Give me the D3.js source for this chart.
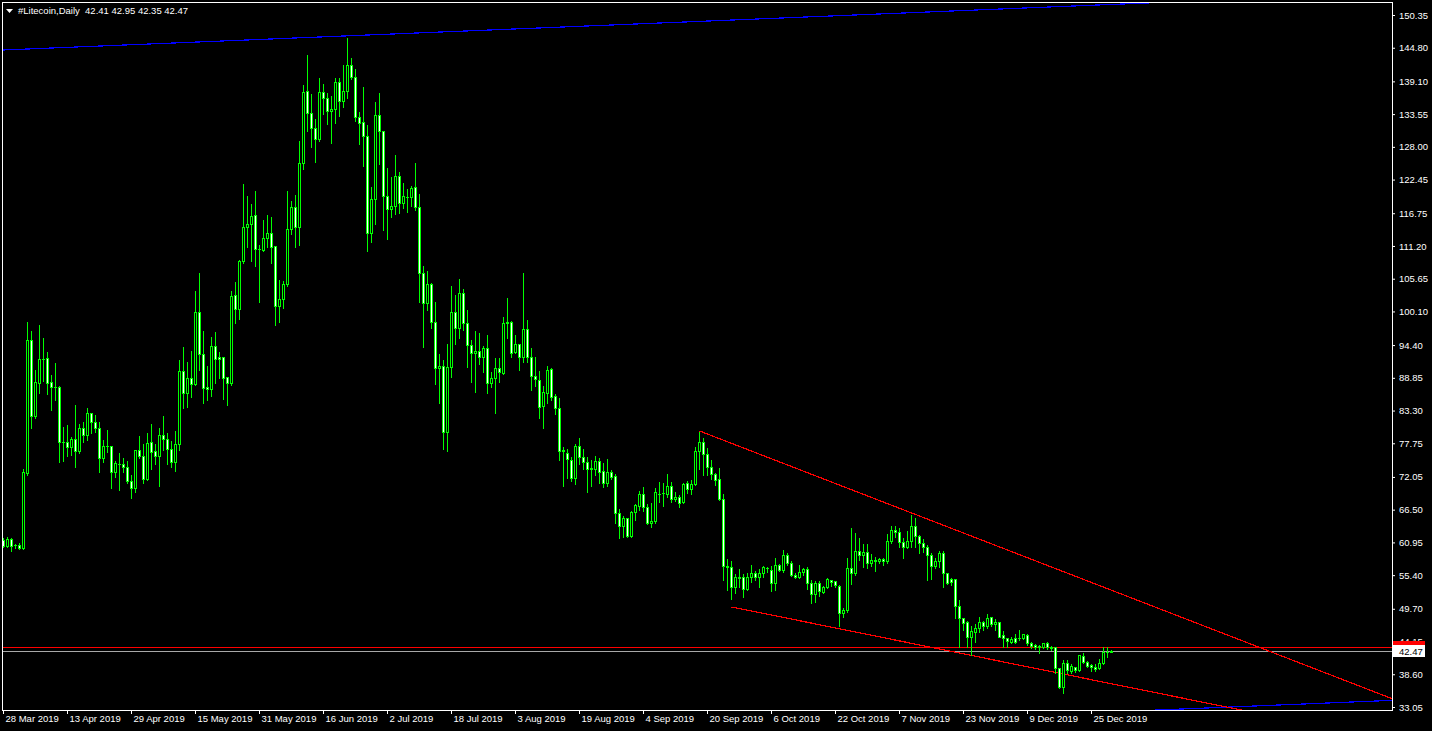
<!DOCTYPE html>
<html>
<head>
<meta charset="utf-8">
<script src="https://cdn.jsdelivr.net/npm/d3@7/dist/d3.min.js"></script>
<style>
  html, body { margin: 0; padding: 0; background: #000; }
  svg { display: block; }
  text { font-family: "Liberation Sans", Arial, sans-serif; }
</style>
</head>
<body>
<div id="chart"></div>
<script>
// daily bars, one per calendar day starting here
const firstDay = "2019-03-28";
const symbolName = "#Litecoin,Daily";

const opens = [
  61.36, 60.34, 61.53, 60.51, 60.51, 60.00, 72.72, 95.26, 82.38, 87.97,
  92.04, 92.21, 88.14, 87.29, 87.29, 77.97, 77.97, 77.12, 78.48, 76.45,
  80.34, 79.16, 82.89, 81.36, 80.34, 75.26, 77.29, 77.29, 72.89, 74.24,
  74.24, 73.73, 71.36, 70.17, 76.62, 75.60, 71.70, 77.97, 76.45, 75.60,
  79.16, 78.48, 76.78, 74.58, 77.63, 90.01, 86.27, 88.82, 87.80, 100.01,
  92.89, 87.29, 86.96, 94.24, 92.38, 92.38, 88.99, 87.97, 102.89, 100.51,
  108.65, 114.41, 114.92, 116.45, 110.68, 110.51, 112.55, 113.40, 111.19, 101.02,
  102.21, 104.75, 114.07, 117.80, 114.41, 125.26, 137.47, 133.74, 131.19, 129.33,
  137.30, 136.28, 134.08, 134.42, 138.99, 135.77, 137.47, 141.87, 139.84, 133.06,
  132.21, 129.84, 113.40, 119.16, 133.40, 130.69, 119.67, 117.46, 117.97, 123.05,
  118.48, 119.50, 119.50, 121.20, 117.80, 106.55, 101.53, 104.75, 98.31, 90.51,
  90.85, 79.67, 90.68, 100.01, 97.29, 103.23, 98.14, 94.41, 93.06, 93.40,
  92.38, 93.91, 87.97, 88.82, 90.51, 89.67, 98.14, 98.31, 93.23, 94.58,
  92.38, 97.12, 92.38, 89.16, 88.48, 84.07, 86.27, 90.35, 85.77, 83.73,
  76.45, 76.11, 74.92, 71.87, 77.29, 75.43, 74.58, 73.39, 73.39, 74.75,
  73.06, 71.02, 72.89, 72.21, 65.94, 63.73, 65.09, 62.04, 66.11, 67.12,
  69.16, 66.95, 64.24, 64.58, 69.16, 69.33, 69.16, 70.50, 68.31, 68.65,
  67.80, 71.02, 70.00, 70.85, 76.45, 77.97, 75.94, 73.73, 72.55, 71.70,
  68.31, 56.95, 56.78, 53.39, 55.09, 55.09, 53.06, 55.09, 55.77, 55.09,
  55.77, 56.61, 56.28, 54.07, 57.12, 56.28, 58.82, 57.46, 55.43, 55.09,
  55.94, 56.45, 54.07, 52.21, 54.07, 52.55, 53.39, 54.58, 54.41, 53.56,
  48.99, 49.50, 56.61, 55.77, 59.50, 58.82, 59.33, 57.46, 57.97, 57.80,
  58.14, 57.80, 61.19, 63.06, 62.72, 61.02, 60.17, 61.19, 63.73, 62.04,
  60.85, 60.17, 58.82, 56.95, 57.80, 59.16, 55.77, 54.75, 54.75, 50.17,
  48.14, 47.46, 44.92, 45.77, 46.45, 47.46, 46.78, 48.31, 47.12, 47.46,
  45.26, 44.75, 44.07, 44.75, 44.75, 44.75, 45.26, 43.90, 43.56, 43.39,
  43.22, 43.90, 43.22, 43.22, 39.67, 36.45, 40.51, 39.16, 39.84, 39.33,
  41.70, 40.68, 40.17, 39.84, 39.67, 40.51, 42.38, 42.41
];

const highs = [
  61.87, 62.04, 61.87, 60.85, 61.02, 73.56, 98.48, 96.96, 90.34, 97.97,
  95.77, 93.40, 89.50, 91.53, 87.63, 80.68, 81.02, 78.99, 84.41, 81.19,
  81.53, 83.90, 83.06, 82.72, 81.53, 78.48, 80.17, 77.46, 74.92, 76.28,
  75.43, 74.92, 72.55, 76.78, 79.16, 77.80, 79.67, 81.19, 77.80, 80.51,
  82.55, 79.67, 78.31, 80.00, 92.04, 94.24, 91.70, 93.57, 103.73, 106.79,
  96.96, 91.02, 95.94, 96.79, 93.40, 92.55, 89.05, 103.73, 105.26, 109.00,
  121.88, 119.84, 118.48, 120.69, 111.53, 115.77, 116.61, 116.27, 111.36, 105.60,
  105.43, 120.69, 118.99, 120.01, 129.16, 138.65, 143.74, 137.13, 132.89, 139.84,
  138.82, 137.30, 136.79, 139.84, 139.84, 142.04, 146.62, 143.23, 141.36, 134.08,
  138.31, 131.87, 121.37, 135.77, 137.30, 130.86, 124.58, 123.05, 126.80, 123.90,
  122.05, 121.03, 121.53, 125.43, 120.18, 107.97, 107.13, 105.09, 101.87, 93.06,
  92.04, 94.75, 104.58, 103.06, 105.77, 104.07, 100.51, 95.43, 96.96, 96.62,
  94.41, 96.28, 90.01, 92.38, 92.38, 99.33, 102.55, 98.65, 96.28, 94.65,
  106.79, 98.82, 94.07, 92.55, 90.18, 87.63, 91.02, 90.68, 86.27, 85.60,
  77.29, 76.95, 75.60, 77.80, 78.82, 76.95, 75.60, 75.09, 75.77, 75.43,
  74.58, 75.26, 73.39, 72.72, 66.79, 65.60, 65.26, 66.45, 67.63, 69.84,
  70.50, 67.63, 67.80, 70.34, 71.36, 71.19, 72.72, 71.36, 69.67, 69.16,
  71.19, 71.53, 71.70, 77.29, 79.84, 78.82, 77.12, 75.09, 72.89, 73.73,
  69.33, 58.31, 57.97, 55.77, 56.61, 55.77, 55.94, 57.29, 56.28, 56.61,
  57.12, 56.95, 57.12, 58.48, 57.46, 59.83, 59.33, 57.97, 55.94, 57.29,
  56.78, 56.95, 54.75, 54.58, 54.58, 53.73, 55.09, 54.75, 54.58, 53.90,
  50.00, 58.48, 63.56, 62.72, 61.87, 60.85, 60.85, 59.16, 58.65, 58.48,
  58.48, 62.55, 63.90, 63.90, 63.56, 61.87, 63.06, 65.77, 65.26, 62.38,
  61.70, 60.68, 59.33, 58.48, 59.67, 59.67, 55.94, 55.09, 54.92, 51.36,
  48.31, 47.80, 46.95, 47.29, 48.48, 47.80, 48.99, 48.48, 48.14, 47.50,
  46.11, 44.92, 45.09, 45.60, 46.28, 45.60, 45.60, 44.24, 43.90, 43.73,
  44.07, 44.24, 43.56, 43.39, 39.84, 41.19, 41.19, 40.51, 40.00, 41.87,
  42.38, 41.02, 40.51, 40.51, 41.36, 43.39, 43.39, 42.95
];

const lows = [
  60.17, 60.17, 59.50, 60.00, 59.83, 59.83, 72.38, 80.34, 82.04, 86.27,
  88.31, 86.10, 83.39, 85.09, 74.58, 74.75, 75.60, 75.77, 73.73, 76.11,
  77.97, 78.31, 79.50, 79.67, 72.89, 74.58, 76.28, 70.17, 72.04, 69.84,
  72.89, 71.02, 68.48, 69.50, 75.26, 71.02, 71.60, 73.39, 74.24, 70.50,
  76.62, 74.24, 73.73, 73.06, 76.62, 83.73, 83.90, 85.60, 87.63, 90.18,
  84.58, 85.09, 85.77, 87.97, 88.82, 85.26, 84.24, 87.63, 98.14, 98.82,
  108.31, 111.02, 108.65, 107.80, 101.70, 110.34, 111.02, 108.31, 97.80, 98.31,
  100.68, 104.41, 113.23, 111.02, 111.36, 124.24, 130.69, 127.97, 125.43, 128.99,
  133.57, 131.87, 128.65, 132.04, 133.23, 134.75, 136.28, 139.50, 132.38, 128.48,
  124.75, 110.34, 111.87, 114.92, 125.09, 113.91, 112.38, 116.11, 116.61, 116.78,
  117.63, 116.95, 117.97, 117.29, 101.70, 94.07, 100.34, 97.29, 87.80, 84.58,
  76.78, 76.45, 88.99, 94.58, 95.60, 96.96, 90.68, 88.14, 86.44, 91.19,
  89.84, 86.27, 87.29, 82.89, 88.14, 89.50, 95.60, 92.38, 93.06, 90.18,
  91.53, 91.53, 86.79, 87.46, 82.04, 80.34, 84.58, 85.09, 82.72, 74.92,
  70.50, 71.87, 71.36, 70.85, 74.24, 73.39, 69.50, 70.50, 72.38, 71.02,
  70.34, 70.50, 71.70, 64.24, 61.70, 61.87, 61.87, 61.95, 64.75, 66.45,
  66.28, 64.07, 63.56, 64.24, 67.80, 67.12, 68.65, 67.80, 67.97, 66.95,
  67.63, 69.33, 69.16, 70.68, 73.39, 72.38, 72.38, 71.70, 70.68, 68.14,
  54.58, 52.89, 51.36, 52.38, 53.39, 51.70, 52.89, 54.24, 54.58, 53.39,
  55.09, 55.94, 52.72, 52.89, 56.11, 55.94, 57.12, 55.26, 55.00, 55.00,
  55.43, 53.06, 50.68, 50.85, 51.87, 52.38, 53.30, 53.56, 53.39, 46.78,
  48.31, 49.16, 53.90, 55.43, 57.97, 56.78, 56.61, 56.95, 56.11, 57.46,
  57.12, 57.46, 60.85, 61.87, 60.17, 58.31, 60.00, 60.17, 60.17, 59.16,
  59.33, 54.58, 54.75, 56.61, 56.78, 53.39, 53.90, 53.73, 48.14, 43.22,
  46.11, 43.22, 41.87, 44.07, 45.77, 46.11, 46.45, 46.78, 46.11, 44.92,
  43.22, 43.22, 43.90, 43.90, 44.41, 44.58, 43.56, 43.05, 42.88, 42.21,
  43.05, 42.88, 42.71, 38.82, 36.28, 35.43, 38.82, 38.82, 38.99, 39.16,
  40.51, 39.84, 39.16, 39.16, 39.50, 40.34, 41.53, 42.35
];

const closes = [
  60.34, 61.53, 60.34, 60.55, 60.00, 72.89, 95.26, 82.38, 88.14, 92.04,
  92.00, 87.97, 87.29, 87.25, 77.97, 77.95, 77.12, 78.48, 76.45, 80.34,
  79.16, 82.89, 81.36, 80.34, 75.26, 77.29, 77.25, 72.89, 74.41, 74.20,
  73.73, 71.36, 70.17, 76.62, 75.60, 71.70, 77.80, 76.28, 75.60, 79.16,
  78.48, 76.78, 74.58, 77.63, 90.01, 86.27, 88.82, 87.80, 100.01, 92.89,
  87.12, 86.96, 94.24, 92.04, 92.04, 88.82, 87.97, 102.72, 100.51, 108.65,
  114.41, 114.92, 116.27, 110.68, 110.65, 112.55, 113.40, 111.02, 101.02, 102.21,
  104.75, 114.07, 117.80, 114.41, 125.26, 137.30, 133.74, 131.19, 129.33, 137.30,
  136.28, 134.08, 134.42, 138.99, 135.77, 137.47, 141.87, 139.84, 133.06, 132.04,
  129.84, 113.40, 119.16, 133.40, 130.69, 119.67, 117.46, 117.97, 123.05, 118.48,
  119.67, 119.45, 121.03, 117.80, 106.55, 101.53, 104.75, 98.31, 90.51, 90.85,
  79.67, 90.68, 100.01, 97.29, 103.23, 98.14, 94.41, 93.06, 93.40, 92.38,
  93.91, 87.97, 88.82, 90.51, 89.84, 98.14, 98.31, 93.06, 94.58, 92.38,
  97.12, 92.38, 89.16, 88.65, 83.90, 86.44, 90.18, 85.60, 83.73, 76.45,
  76.62, 75.09, 71.87, 77.29, 75.43, 74.58, 73.39, 73.56, 74.75, 72.89,
  71.02, 72.89, 72.04, 65.94, 63.73, 65.09, 62.04, 66.11, 67.29, 69.16,
  66.95, 64.24, 64.58, 69.50, 69.12, 69.30, 70.50, 68.31, 68.65, 67.63,
  70.85, 70.00, 70.85, 76.45, 77.97, 75.94, 73.73, 72.55, 71.53, 68.31,
  56.95, 56.78, 53.39, 55.09, 54.92, 53.06, 55.09, 55.77, 55.09, 55.77,
  56.78, 56.58, 54.07, 57.12, 56.28, 58.82, 57.46, 55.43, 55.09, 55.94,
  56.45, 54.07, 52.21, 54.07, 52.72, 53.39, 54.75, 54.24, 53.73, 48.99,
  49.50, 56.61, 55.77, 59.50, 58.82, 59.33, 57.46, 57.97, 57.80, 58.14,
  57.80, 61.19, 63.06, 62.72, 61.02, 60.17, 61.19, 63.73, 62.04, 60.85,
  60.17, 58.82, 56.95, 57.80, 59.16, 55.77, 54.07, 54.24, 50.17, 48.14,
  47.29, 44.92, 45.94, 46.45, 47.46, 46.78, 48.14, 47.12, 47.46, 44.95,
  44.75, 44.24, 44.58, 44.07, 44.72, 45.43, 43.90, 43.39, 43.22, 43.22,
  43.90, 43.22, 43.05, 39.67, 36.45, 40.51, 39.33, 40.00, 39.33, 41.80,
  40.68, 40.00, 39.84, 39.50, 40.51, 42.38, 42.41, 42.47
];

const priceTicks = [150.35, 144.80, 139.10, 133.55, 128.00, 122.45, 116.75, 111.20,
  105.65, 100.10, 94.40, 88.85, 83.30, 77.75, 72.05, 66.50, 60.95, 55.40, 49.70,
  44.15, 38.60, 33.05];

const dateTicks = ["2019-03-28", "2019-04-13", "2019-04-29", "2019-05-15", "2019-05-31",
  "2019-06-16", "2019-07-02", "2019-07-18", "2019-08-03", "2019-08-19", "2019-09-04",
  "2019-09-20", "2019-10-06", "2019-10-22", "2019-11-07", "2019-11-23", "2019-12-09",
  "2019-12-25"];

const askPrice = 43.22;
const bidPrice = 42.47;

// trend objects: [bar, price] anchor pairs, "ray" ones keep going right
const trendLines = [
  { color: "#0000ff", from: [-5, 144.28], to: [277, 152.14], ray: true },
  { color: "#0000ff", from: [-5, 24.36], to: [277, 32.22], ray: true },
  { color: "#ff0000", from: [174, 79.84], to: [227, 65.95], ray: true },
  { color: "#ff0000", from: [182, 50.01], to: [284, 36.03], ray: true }
];

const W = 1432, H = 731;
const plotL = 2, plotT = 2, plotR = 1392, plotB = 710;

const parse = d3.utcParse("%Y-%m-%d");
const day0 = parse(firstDay);
const barDate = b => new Date(+day0 + b * 864e5);

const x = d3.scaleUtc()
  .domain([day0, barDate(277)])
  .range([3, 3 + 277 * 4]);

const y = d3.scaleLinear()
  .domain([33.05, 150.35])
  .range([707, 15]);

const svg = d3.select("#chart").append("svg")
  .attr("width", W).attr("height", H)
  .style("background", "#000");

svg.append("defs").append("clipPath").attr("id", "plot")
  .append("rect")
  .attr("x", plotL + 1).attr("y", plotT + 1)
  .attr("width", plotR - plotL - 1).attr("height", plotB - plotT - 1);

const plot = svg.append("g").attr("clip-path", "url(#plot)");

// bid / ask lines
plot.append("line")
  .attr("x1", plotL).attr("x2", plotR)
  .attr("y1", Math.round(y(bidPrice)) + 0.5).attr("y2", Math.round(y(bidPrice)) + 0.5)
  .attr("stroke", "#a8a8a8").attr("shape-rendering", "crispEdges");
plot.append("line")
  .attr("x1", plotL).attr("x2", plotR)
  .attr("y1", Math.round(y(askPrice)) + 0.5).attr("y2", Math.round(y(askPrice)) + 0.5)
  .attr("stroke", "#ff0000").attr("shape-rendering", "crispEdges");

// trend lines
trendLines.forEach(t => {
  let [b1, p1] = t.from, [b2, p2] = t.to;
  if (t.ray) {
    const slope = (p2 - p1) / (b2 - b1);
    b2 = 420; p2 = p1 + slope * (b2 - b1);
  }
  plot.append("line")
    .attr("x1", x(barDate(b1)) + 0.5).attr("y1", y(p1))
    .attr("x2", x(barDate(b2)) + 0.5).attr("y2", y(p2))
    .attr("stroke", t.color).attr("stroke-width", 1.2)
    .attr("shape-rendering", "crispEdges");
});

// candles
const bars = d3.range(opens.length).map(i => ({
  date: barDate(i), o: opens[i], h: highs[i], l: lows[i], c: closes[i]
}));

const lime = "#00ff00";
const cg = plot.append("g").attr("shape-rendering", "crispEdges");

const candle = cg.selectAll("g.candle").data(bars).join("g").attr("class", "candle");

candle.append("line")
  .attr("x1", d => Math.round(x(d.date)) + 0.5)
  .attr("x2", d => Math.round(x(d.date)) + 0.5)
  .attr("y1", d => Math.round(y(d.h)) + 0.5)
  .attr("y2", d => Math.round(y(d.l)) + 0.5)
  .attr("stroke", lime);

candle.each(function (d) {
  const g = d3.select(this);
  const col = Math.round(x(d.date));
  const yo = Math.round(y(d.o)), yc = Math.round(y(d.c));
  if (yo === yc) {
    g.append("line")
      .attr("x1", col - 1).attr("x2", col + 2)
      .attr("y1", yo + 0.5).attr("y2", yo + 0.5)
      .attr("stroke", lime);
  } else {
    g.append("rect")
      .attr("x", col - 0.5)
      .attr("y", Math.min(yo, yc) + 0.5)
      .attr("width", 2)
      .attr("height", Math.abs(yo - yc))
      .attr("fill", d.c > d.o ? "#000" : "#fff")
      .attr("stroke", lime);
  }
});

// frame
svg.append("rect")
  .attr("x", plotL + 0.5).attr("y", plotT + 0.5)
  .attr("width", plotR - plotL).attr("height", plotB - plotT)
  .attr("fill", "none").attr("stroke", "#fff")
  .attr("shape-rendering", "crispEdges");

// price axis
const yAxis = svg.append("g")
  .attr("transform", `translate(${plotR},0)`)
  .call(d3.axisRight(y).tickValues(priceTicks).tickSize(3).tickPadding(4)
    .tickFormat(d3.format(".2f")));
yAxis.select(".domain").remove();
yAxis.selectAll("line").attr("stroke", "#fff");
yAxis.selectAll("text").attr("fill", "#fff").attr("font-size", 9.5)
  .style("font-family", '"Liberation Sans", Arial, sans-serif');

// ask marker (its text sits under the bid label) and the bid label on the price axis
const askY = Math.round(y(askPrice));
svg.append("rect")
  .attr("x", plotR + 1).attr("y", askY - 6)
  .attr("width", 32).attr("height", 12)
  .attr("fill", "#ff0000").attr("shape-rendering", "crispEdges");

const bidY = Math.round(y(bidPrice));
svg.append("rect")
  .attr("x", plotR + 1).attr("y", bidY - 6)
  .attr("width", 32).attr("height", 12)
  .attr("fill", "#fff").attr("shape-rendering", "crispEdges");
svg.append("text")
  .attr("x", plotR + 7).attr("y", bidY + 3.5)
  .attr("fill", "#000").attr("font-size", 9.5)
  .text(d3.format(".2f")(bidPrice));

// date axis
const xAxis = svg.append("g")
  .attr("transform", `translate(0,${plotB})`)
  .call(d3.axisBottom(x).tickValues(dateTicks.map(parse)).tickSize(4).tickPadding(1)
    .tickFormat(d3.utcFormat("%-d %b %Y")));
xAxis.select(".domain").remove();
xAxis.selectAll("line").attr("stroke", "#fff");
xAxis.selectAll("text").attr("fill", "#fff").attr("font-size", 9.5)
  .attr("text-anchor", "start").attr("x", 2)
  .style("font-family", '"Liberation Sans", Arial, sans-serif');

// header: symbol + last bar OHLC
const last = bars[bars.length - 1];
const f2 = d3.format(".2f");
svg.append("path")
  .attr("d", "M6,9 L13,9 L9.5,13 Z")
  .attr("fill", "#fff");
svg.append("text")
  .attr("x", 18).attr("y", 14)
  .attr("fill", "#fff").attr("font-size", 9.5)
  .attr("xml:space", "preserve")
  .text(`${symbolName}  ${f2(last.o)} ${f2(last.h)} ${f2(last.l)} ${f2(last.c)}`);
</script>
</body>
</html>
